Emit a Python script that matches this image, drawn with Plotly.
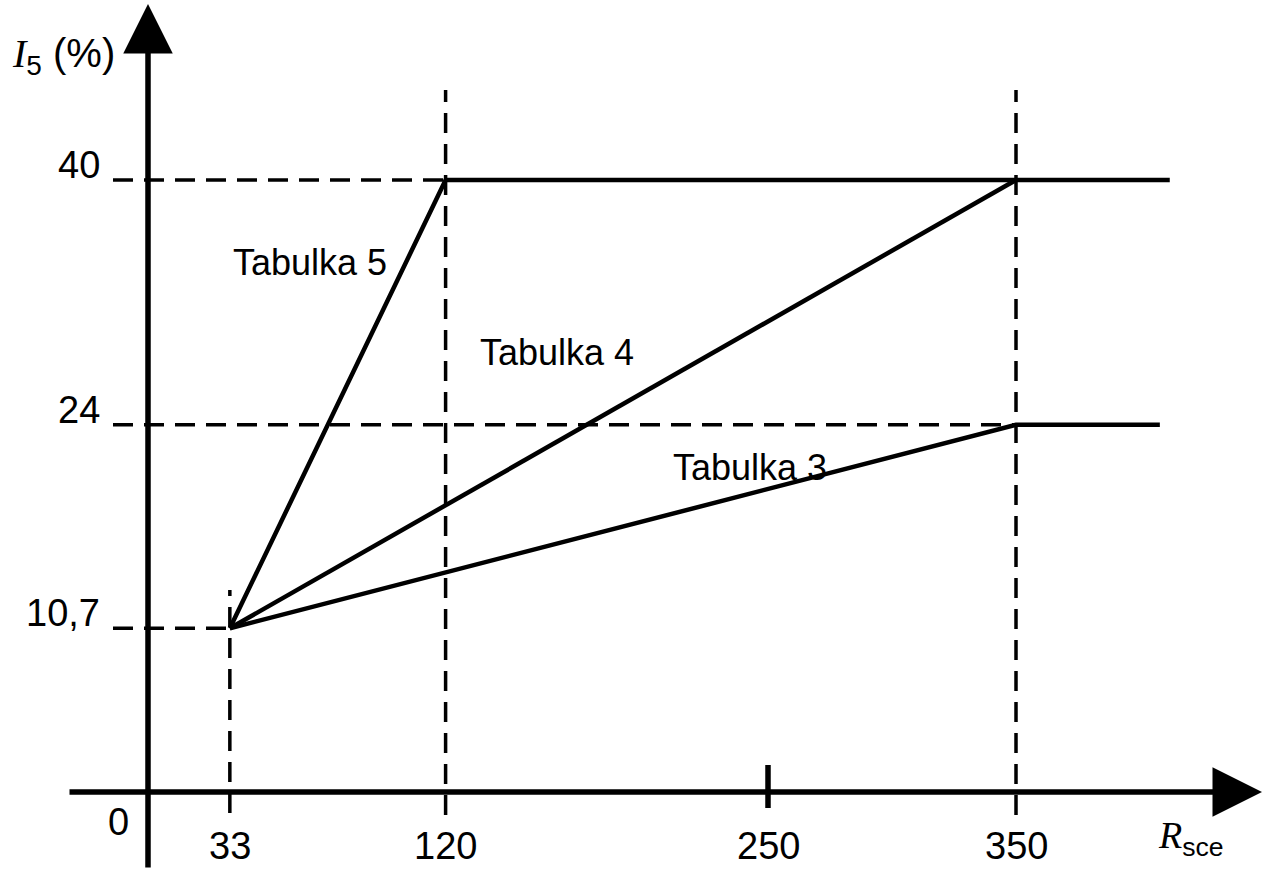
import plotly.graph_objects as go

# ---- data ----
x_ticks = [33, 120, 250, 350]
x_tick_labels = ["33", "120", "250", "350"]
y_ticks = [10.7, 24, 40]
y_tick_labels = ["10,7", "24", "40"]

tab5_x = [33, 120, 412]
tab5_y = [10.7, 40, 40]
tab4_x = [33, 350]
tab4_y = [10.7, 40]
tab3_x = [33, 350, 408]
tab3_y = [10.7, 24, 24]

series_names = ["Tabulka 5", "Tabulka 4", "Tabulka 3"]

# ---- figure ----
W, H = 1267, 869
X0, XS = 148, 2.48      # pixel of x=0, px per unit
Y0, YS = 792, 15.3      # pixel of y=0, px per unit


def px2x(p):
    return (p - X0) / XS


def px2y(p):
    return (Y0 - p) / YS


fig = go.Figure()

dash = "20px,11px"
dline = dict(color="black", width=3.5, dash=dash)

# horizontal guide lines
for yv, xe in zip(y_ticks, [33, 350, 120]):
    fig.add_trace(go.Scatter(x=[px2x(113), xe], y=[yv, yv], mode="lines",
                             line=dline, hoverinfo="skip", showlegend=False))
# vertical guide lines
fig.add_trace(go.Scatter(x=[33, 33], y=[px2y(813), px2y(590)], mode="lines",
                         line=dline, hoverinfo="skip", showlegend=False))
for xv in [120, 350]:
    fig.add_trace(go.Scatter(x=[xv, xv], y=[px2y(815), px2y(90)], mode="lines",
                             line=dline, hoverinfo="skip", showlegend=False))

# main lines
sline = dict(color="black", width=4.5)
for xs, ys, nm in zip([tab5_x, tab4_x, tab3_x], [tab5_y, tab4_y, tab3_y], series_names):
    fig.add_trace(go.Scatter(x=xs, y=ys, mode="lines", line=sline, name=nm,
                             showlegend=False))

# tick mark at 250
fig.add_trace(go.Scatter(x=[250, 250], y=[px2y(765), px2y(808)], mode="lines",
                         line=dict(color="black", width=5.5), hoverinfo="skip",
                         showlegend=False))

ann = []
# axes with arrows
ann.append(dict(x=0, y=px2y(4), ax=0, ay=px2y(869), xref="x", yref="y",
                axref="x", ayref="y", showarrow=True, arrowhead=2,
                arrowsize=1.8, arrowwidth=5.5, arrowcolor="black", text=""))
ann.append(dict(x=px2x(1262), y=0, ax=px2x(68), ay=0, xref="x", yref="y",
                axref="x", ayref="y", showarrow=True, arrowhead=2,
                arrowsize=1.8, arrowwidth=5.5, arrowcolor="black", text=""))

tick_font = dict(family="Liberation Sans, Arial", size=38, color="black")
for xv, lab in zip(x_ticks, x_tick_labels):
    ann.append(dict(x=xv, y=0, xref="x", yref="y", text=lab, showarrow=False,
                    yshift=-54, font=tick_font))
for yv, lab in zip(y_ticks, y_tick_labels):
    ann.append(dict(x=0, y=yv, xref="x", yref="y", text=lab, showarrow=False,
                    xanchor="right", yanchor="bottom", xshift=-46, yshift=-8,
                    font=tick_font))
ann.append(dict(x=0, y=0, xref="x", yref="y", text="0", showarrow=False,
                xshift=-30, yshift=-30, font=tick_font))

# axis titles
ann.append(dict(x=px2x(63), y=px2y(56), xref="x", yref="y",
                text="<span style='font-family:Liberation Serif'><i>I</i></span><sub>5</sub> (%)",
                showarrow=False, font=dict(family="Liberation Sans, Arial", size=40, color="black")))
ann.append(dict(x=px2x(1191), y=px2y(838), xref="x", yref="y",
                text="<span style='font-family:Liberation Serif'><i>R</i></span><sub>sce</sub>",
                showarrow=False, font=dict(family="Liberation Sans, Arial", size=38, color="black")))

# series labels
lab_font = dict(family="Liberation Sans, Arial", size=36, color="black")
for nm, (px, py) in zip(series_names, [(310, 262), (557, 352), (750, 467)]):
    ann.append(dict(x=px2x(px), y=px2y(py), xref="x", yref="y", text=nm,
                    showarrow=False, font=lab_font))

fig.update_layout(
    width=W, height=H,
    margin=dict(l=0, r=0, t=0, b=0),
    paper_bgcolor="white", plot_bgcolor="white",
    xaxis=dict(range=[px2x(0), px2x(W)], visible=False, fixedrange=True),
    yaxis=dict(range=[px2y(H), px2y(0)], visible=False, fixedrange=True),
    annotations=ann,
    showlegend=False,
)

fig.write_html("out.html", config={"displayModeBar": False},
               post_script="document.body.style.margin='0px';document.body.style.overflow='hidden';")
